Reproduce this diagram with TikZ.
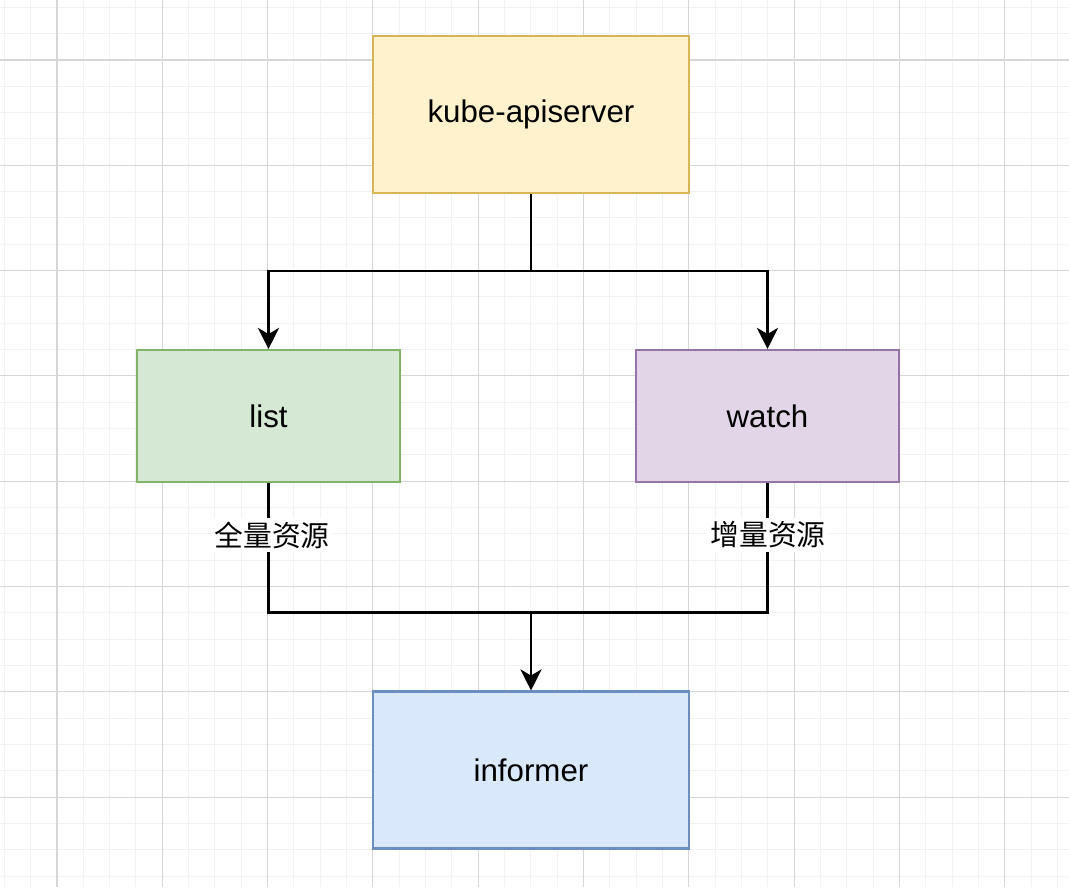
\documentclass[tikz,border=0pt]{standalone}
\usepackage{fontspec}
\setmainfont{Liberation Sans}
\newfontfamily\cjk{Noto Sans CJK SC}
\usetikzlibrary{arrows.meta, positioning}
\definecolor{apifill}{HTML}{FFF2CC}
\definecolor{apidraw}{HTML}{D6B656}
\definecolor{listfill}{HTML}{D5E8D4}
\definecolor{listdraw}{HTML}{82B366}
\definecolor{watchfill}{HTML}{E1D5E7}
\definecolor{watchdraw}{HTML}{9673A6}
\definecolor{infofill}{HTML}{DAE8FC}
\definecolor{infodraw}{HTML}{6C8EBF}

\begin{document}
\begin{tikzpicture}[
    x=0.02cm, y=-0.02cm,
    minorgrid/.style={draw=black!5, line width=0.6pt},
    majorgrid/.style={draw=black!16, line width=0.6pt},
    box/.style={rectangle, line width=1.2pt, inner sep=0pt,
      font=\fontsize{17.8pt}{20pt}\selectfont},
    bigbox/.style={box, minimum width=6.32cm, minimum height=3.14cm},
    smallbox/.style={box, minimum width=5.26cm, minimum height=2.64cm},
    flow/.style={line width=1.5pt, draw=black},
    arrow/.style={flow, -{Stealth[length=12pt, width=12pt, inset=3.5pt]}},
    tag/.style={fill=white, inner sep=2pt, font=\cjk\fontsize{16.4pt}{18pt}\selectfont}
]
\useasboundingbox[fill=white] (0,0) rectangle (1069,887);
\foreach \i in {0,...,40} {
  \pgfmathtruncatemacro{\m}{mod(\i,4)}
  \ifnum\m=2\else
    \draw[minorgrid] ({4.3+26.33*\i},0) -- ({4.3+26.33*\i},887);
  \fi
}
\foreach \i in {0,...,33} {
  \pgfmathtruncatemacro{\m}{mod(\i,4)}
  \ifnum\m=2\else
    \draw[minorgrid] (0,{7.3+26.33*\i}) -- (1069,{7.3+26.33*\i});
  \fi
}
\foreach \i in {0,...,9} {
  \draw[majorgrid] ({57+105.3*\i},0) -- ({57+105.3*\i},887);
}
\foreach \i in {0,...,8} {
  \draw[majorgrid] (0,{60+105.3*\i}) -- (1069,{60+105.3*\i});
}
\node[bigbox, fill=apifill, draw=apidraw] (api) at (531,114.5) {kube-apiserver};
\node[smallbox, fill=listfill, draw=listdraw] (list) at (268.5,416) {list};
\node[smallbox, fill=watchfill, draw=watchdraw] (watch) at (767.5,416) {watch};
\node[bigbox, fill=infofill, draw=infodraw] (informer) at (531,770) {informer};
\coordinate (split) at (531,271);
\coordinate (join) at (531,612.5);
\draw[flow] (api) -- (split);
\draw[arrow] (split) -| (list);
\draw[arrow] (split) -| (watch);
\draw[flow] (list) |- (join);
\draw[flow] (watch) |- (join);
\draw[arrow] (join) -- (informer);
\node[tag] (full) at (272,535) {全量资源};
\node[tag] (delta) at (768,535) {增量资源};
\end{tikzpicture}
\end{document}
